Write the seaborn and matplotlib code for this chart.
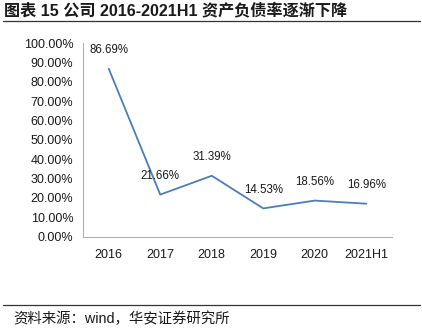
import matplotlib
matplotlib.use("Agg")
import matplotlib.pyplot as plt
from matplotlib.lines import Line2D
from matplotlib.ticker import PercentFormatter
import seaborn as sns
import pandas as pd

# Debt-to-asset ratio by period
periods = ["2016", "2017", "2018", "2019", "2020", "2021H1"]
ratios = [86.69, 21.66, 31.39, 14.53, 18.56, 16.96]
yticks = [0, 10, 20, 30, 40, 50, 60, 70, 80, 90, 100]

title_text = "图表 15 公司 2016-2021H1 资产负债率逐渐下降"
source_text = "资料来源：wind，华安证券研究所"

sns.set_style("white")
plt.rcParams["font.family"] = ["Liberation Sans", "Noto Sans CJK SC", "DejaVu Sans"]

df = pd.DataFrame({"period": periods, "ratio": ratios})

fig = plt.figure(figsize=(4.22, 3.30), dpi=100)
ax = fig.add_axes([83 / 422, (330 - 236.5) / 330, 309 / 422, 193.5 / 330])

sns.lineplot(data=df, x="period", y="ratio", sort=False, ax=ax,
             color="#4a7ebb", linewidth=1.3)

ax.set_xlim(-0.5, len(periods) - 0.5)
ax.set_ylim(0, 100)
ax.set_yticks(yticks)
ax.yaxis.set_major_formatter(PercentFormatter(decimals=2))
ax.set_xlabel("")
ax.set_ylabel("")
ax.tick_params(axis="both", length=0, labelsize=9, colors="#1a1a1a")
ax.tick_params(axis="y", pad=7)
ax.tick_params(axis="x", pad=9)

for side in ("top", "right"):
    ax.spines[side].set_visible(False)
for side in ("left", "bottom"):
    ax.spines[side].set_color("#b0b0b0")
    ax.spines[side].set_linewidth(0.8)

for i, v in enumerate(ratios):
    ax.annotate(f"{v:.2f}%", xy=(i, v), xytext=(0, 13.5), textcoords="offset points",
                ha="center", va="center", fontsize=8.3, color="#1a1a1a")

fig.text(4 / 422, 1 - 10 / 330, title_text, ha="left", va="center",
         fontsize=11.6, fontweight="bold", color="#1a1a1a")
fig.add_artist(Line2D([3 / 422, 420 / 422], [1 - 21 / 330] * 2,
                      transform=fig.transFigure, color="#333333", linewidth=0.9))
fig.add_artist(Line2D([3 / 422, 420 / 422], [1 - 305 / 330] * 2,
                      transform=fig.transFigure, color="#333333", linewidth=0.9))
fig.text(13 / 422, 1 - 319 / 330, source_text, ha="left", va="center",
         fontsize=10.4, color="#1a1a1a")

fig.savefig("out.png", dpi=100)
